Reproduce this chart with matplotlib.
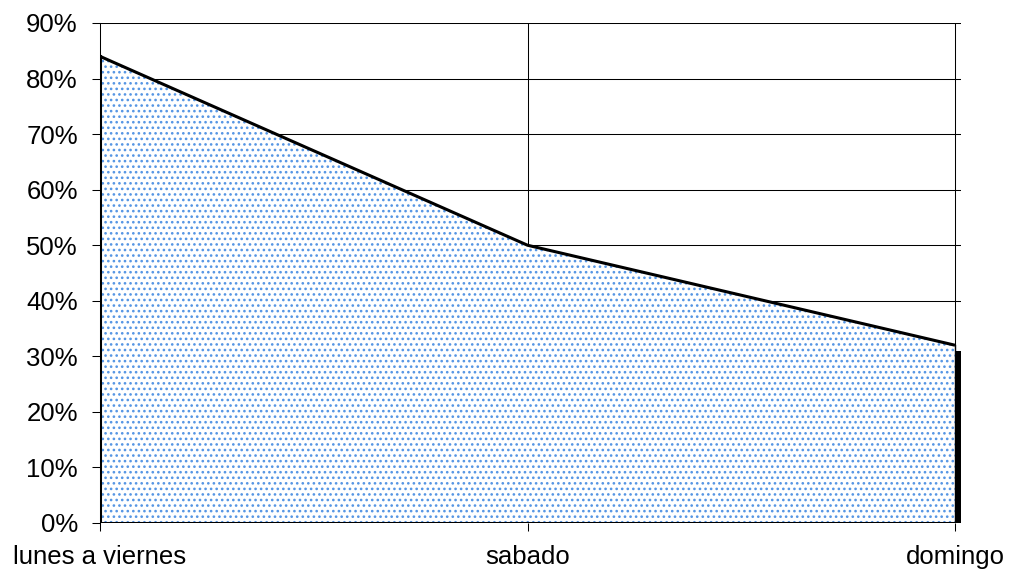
import numpy as np
import matplotlib.pyplot as plt

plt.rcParams['font.family'] = ['Liberation Sans', 'DejaVu Sans']
plt.rcParams['hatch.linewidth'] = 1.1

categorias = ['lunes a viernes', 'sabado', 'domingo']
porcentajes = [0.84, 0.50, 0.32]
yticks = np.arange(0, 0.91, 0.1)

x = np.arange(len(categorias))

fig = plt.figure(figsize=(10.10, 5.75), dpi=100)
ax = fig.add_axes([100/1010, 1 - 523/575, 861/1010, 500/575])

# horizontal grid
for yv in yticks:
    ax.axhline(yv, color='black', lw=0.75, zorder=1)
# vertical grid at categories
for xv in x[1:]:
    ax.axvline(xv, color='black', lw=0.75, zorder=1)

# area with dotted fill
ax.fill_between(x, 0, porcentajes, facecolor='white', edgecolor='#5595e4',
                hatch='...', lw=0, zorder=2)
# depth shadow on the right side
dx = 2 * 7 / 855
ax.fill([x[-1], x[-1] + dx, x[-1] + dx, x[-1]],
        [0, 0, porcentajes[-1] - 0.01, porcentajes[-1] - 0.01],
        color='black', lw=0, zorder=3)
# outline
ax.plot(x, porcentajes, color='black', lw=2.2, zorder=4, solid_capstyle='butt')
ax.plot([x[0], x[0]], [0, porcentajes[0]], color='black', lw=2.2, zorder=4)
ax.plot([x[0], x[-1] + dx], [0, 0], color='black', lw=2.2, zorder=4)
ax.plot([x[-1], x[-1]], [0, porcentajes[-1]], color='black', lw=1.0, zorder=4)

ax.set_xlim(0, 2 + 2 * 6 / 855)
ax.set_ylim(0, 0.9)
ax.set_yticks(yticks)
ax.set_yticklabels(['%d%%' % round(v * 100) for v in yticks])
ax.set_xticks(x)
ax.set_xticklabels(categorias)

for s in ['top', 'right', 'bottom']:
    ax.spines[s].set_visible(False)
ax.spines['left'].set_linewidth(0.75)

ax.tick_params(axis='both', direction='out', length=6, width=0.75,
               labelsize=18.5, colors='black')
ax.tick_params(axis='y', pad=10)
ax.tick_params(axis='x', pad=10)

fig.savefig('out.png', dpi=100)
